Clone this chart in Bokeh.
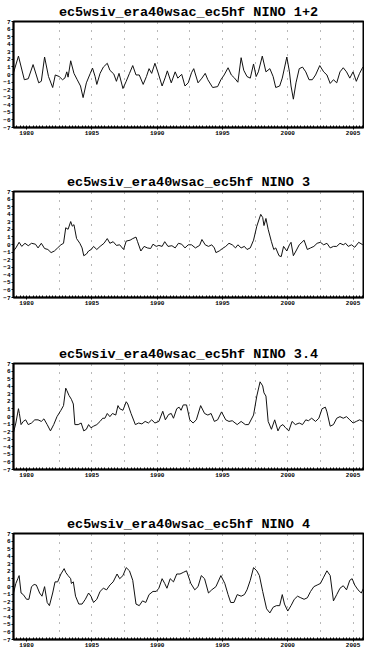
from bokeh.plotting import figure
from bokeh.layouts import column
from bokeh.models import Range1d, FixedTicker
from bokeh.embed import file_html
from bokeh.resources import INLINE

title_prefix = "ec5wsiv_era40wsac_ec5hf"
region_names = ["NINO 1+2", "NINO 3", "NINO 3.4", "NINO 4"]
x_tick_years = [1980, 1985, 1990, 1995, 2000, 2005]
y_tick_values = list(range(-7, 8))

nino12_t = [1979.00, 1979.38, 1979.83, 1980.13, 1980.50, 1980.93, 1981.13, 1981.38, 1981.68, 1982.00,
            1982.20, 1982.50, 1982.75, 1982.93, 1983.08, 1983.18, 1983.38, 1983.63, 1983.88, 1984.13,
            1984.33, 1984.58, 1984.88, 1985.05, 1985.25, 1985.38, 1985.63, 1985.88, 1986.18, 1986.38,
            1986.68, 1986.88, 1987.08, 1987.38, 1987.63, 1987.88, 1988.13, 1988.38, 1988.63, 1988.93,
            1989.18, 1989.38, 1989.58, 1989.83, 1990.05, 1990.38, 1990.63, 1990.78, 1991.08, 1991.38,
            1991.58, 1991.88, 1992.13, 1992.38, 1992.63, 1992.80, 1993.13, 1993.43, 1993.68, 1993.88,
            1994.25, 1994.63, 1994.88, 1995.13, 1995.43, 1995.68, 1995.93, 1996.18, 1996.43, 1996.63,
            1996.88, 1997.13, 1997.38, 1997.58, 1997.75, 1998.05, 1998.33, 1998.63, 1998.88, 1999.08,
            1999.38, 1999.58, 1999.93, 2000.13, 2000.25, 2000.43, 2000.63, 2000.88, 2001.13, 2001.38,
            2001.63, 2001.88, 2002.13, 2002.45, 2002.75, 2003.00, 2003.25, 2003.50, 2003.75, 2004.00,
            2004.25, 2004.50, 2004.75, 2005.00, 2005.25, 2005.50, 2005.75]
nino12_v = [0.23, 2.43, -0.69, -0.56, 1.31, -1.10, -0.89, 2.31, -0.27, -1.72,
            -0.06, -0.27, -0.69, -0.48, 0.35, -0.35, 1.81, 0.15, -0.69, -1.52,
            -3.05, -1.10, 0.15, 0.85, -0.27, -1.31, 0.15, 0.98, 1.48, 0.56,
            0.06, -0.90, 0.15, -1.85, -0.90, 0.15, 1.18, -0.06, -0.06, -1.31,
            -0.27, 0.77, 0.15, 1.48, 0.35, -1.52, -0.35, 0.48, -1.10, 0.35,
            -0.48, 0.02, -1.52, -1.10, 0.23, 0.77, -1.10, -0.48, 0.15, -0.69,
            -1.72, -1.60, -0.69, -0.06, 0.89, -0.06, -0.48, -1.02, 2.22, 0.56,
            -0.27, -0.48, 1.39, -0.27, 0.35, 2.43, 0.35, 0.77, -0.27, -1.72,
            -1.52, -0.48, 2.31, 0.35, -1.52, -3.26, -1.10, 0.77, 0.98, 0.35,
            -0.69, -0.69, -0.06, 1.18, 0.35, -0.06, -1.18, -0.69, -1.10, 0.35,
            0.89, 0.35, -0.48, 0.35, -0.90, 0.15, 0.98]

nino3_t = [1979.00, 1979.18, 1979.43, 1979.63, 1979.88, 1980.13, 1980.38, 1980.68, 1980.88, 1981.13,
           1981.38, 1981.63, 1981.88, 1982.13, 1982.38, 1982.63, 1982.83, 1983.00, 1983.18, 1983.38,
           1983.50, 1983.63, 1983.83, 1984.08, 1984.25, 1984.38, 1984.58, 1984.75, 1984.95, 1985.13,
           1985.38, 1985.63, 1985.93, 1986.18, 1986.38, 1986.63, 1986.88, 1987.13, 1987.43, 1987.63,
           1987.93, 1988.13, 1988.38, 1988.50, 1988.75, 1989.00, 1989.25, 1989.50, 1989.68, 1989.93,
           1990.13, 1990.38, 1990.58, 1990.83, 1991.13, 1991.38, 1991.63, 1991.88, 1992.13, 1992.38,
           1992.63, 1992.93, 1993.25, 1993.43, 1993.68, 1993.93, 1994.18, 1994.38, 1994.50, 1994.75,
           1995.00, 1995.25, 1995.50, 1995.75, 1996.00, 1996.18, 1996.43, 1996.68, 1996.88, 1997.13,
           1997.38, 1997.63, 1997.93, 1998.08, 1998.18, 1998.33, 1998.50, 1998.75, 1998.93, 1999.08,
           1999.33, 1999.50, 1999.68, 1999.93, 2000.13, 2000.25, 2000.43, 2000.63, 2000.88, 2001.25,
           2001.50, 2001.75, 2002.00, 2002.25, 2002.50, 2002.75, 2003.00, 2003.25, 2003.50, 2003.75,
           2004.00, 2004.25, 2004.43, 2004.63, 2004.88, 2005.13, 2005.43, 2005.75]
nino3_v = [-0.86, -0.45, 0.29, -0.25, 0.16, -0.16, 0.16, 0.04, -0.45, 0.16,
           -0.53, -0.66, -1.07, -0.86, -0.45, -0.04, 0.16, 2.21, 2.01, 3.03,
           2.42, 2.62, 0.78, 0.16, -0.45, -1.48, -1.27, -0.86, -0.66, -0.25,
           -0.66, -0.25, 0.16, 0.78, 0.16, 0.37, -0.12, -0.04, -0.66, 0.45,
           0.57, 0.78, 0.98, 0.37, -0.86, -0.25, -0.45, -0.53, 0.04, -0.25,
           -0.12, -0.25, 0.37, -0.25, -0.16, -0.45, 0.16, 0.04, -0.45, -0.04,
           -0.04, -0.45, -0.12, 0.66, -0.04, -0.25, -0.04, -0.45, -1.07, -0.86,
           -0.53, -0.25, 0.16, -0.04, -0.45, -0.04, -0.45, -0.25, -0.66, -0.45,
           0.57, 2.42, 3.98, 3.57, 2.50, 3.44, 2.01, 0.37, -0.66, -0.45,
           -1.48, -1.60, -0.25, -0.86, -0.04, 0.29, -1.48, -0.86, -0.04, 0.57,
           -0.66, -0.45, -0.25, 0.16, 0.29, -0.04, 0.16, -0.45, -0.25, -0.25,
           0.16, -0.04, 0.16, -0.25, -0.04, -0.37, 0.29, -0.04]

nino34_t = [1979.00, 1979.18, 1979.38, 1979.45, 1979.58, 1979.75, 1979.93, 1980.13, 1980.38, 1980.63,
            1980.88, 1981.13, 1981.33, 1981.58, 1981.83, 1982.08, 1982.33, 1982.63, 1982.83, 1983.00,
            1983.08, 1983.25, 1983.43, 1983.58, 1983.70, 1983.95, 1984.18, 1984.38, 1984.58, 1984.75,
            1984.93, 1985.13, 1985.38, 1985.63, 1985.83, 1986.00, 1986.18, 1986.38, 1986.58, 1986.83,
            1987.00, 1987.13, 1987.38, 1987.63, 1987.75, 1988.00, 1988.33, 1988.58, 1988.83, 1989.08,
            1989.33, 1989.58, 1989.83, 1990.13, 1990.43, 1990.63, 1990.88, 1991.08, 1991.25, 1991.50,
            1991.68, 1991.83, 1992.00, 1992.25, 1992.50, 1992.75, 1993.00, 1993.33, 1993.63, 1993.88,
            1994.13, 1994.38, 1994.63, 1994.93, 1995.25, 1995.50, 1995.75, 1996.13, 1996.43, 1996.75,
            1997.00, 1997.38, 1997.63, 1997.88, 1998.08, 1998.18, 1998.33, 1998.50, 1998.75, 1999.00,
            1999.25, 1999.43, 1999.63, 1999.83, 2000.08, 2000.33, 2000.58, 2000.88, 2001.13, 2001.38,
            2001.58, 2001.83, 2002.13, 2002.38, 2002.63, 2002.88, 2003.00, 2003.25, 2003.50, 2003.75,
            2004.00, 2004.25, 2004.50, 2004.75, 2005.00, 2005.25, 2005.50, 2005.75]
nino34_v = [-2.11, -0.86, 1.03, 0.40, -1.07, -0.65, -0.44, -1.07, -0.86, -0.44,
            -0.44, -0.65, -0.31, -1.07, -1.90, -1.07, -0.02, 0.82, 1.44, 3.74,
            3.45, 2.78, 2.28, 1.65, -1.07, -1.07, -0.86, -1.90, -1.69, -1.07,
            -1.49, -1.28, -1.07, -0.65, -0.23, -0.23, 0.40, -0.02, 0.40, 0.19,
            1.44, 1.03, 0.82, 1.95, 1.65, 0.40, -1.07, -0.86, -0.98, -0.65,
            -0.86, -0.44, -0.86, -0.65, 0.69, -0.44, 0.27, 0.40, -0.23, 1.03,
            1.23, 0.82, 1.53, 1.53, -0.44, -0.86, -0.44, 1.44, 0.40, 0.19,
            0.40, -0.65, -0.44, 0.61, -0.44, -0.65, -0.56, -1.07, -0.65, -1.07,
            -1.07, 0.19, 2.70, 4.58, 4.04, 3.12, 2.70, -0.65, -1.69, -0.44,
            -1.90, -1.28, -1.07, -1.49, -1.90, -0.65, -1.07, -0.86, -1.07, -0.44,
            -0.56, -0.23, -0.65, -0.23, 1.03, 1.23, 0.61, -1.28, -1.07, -0.23,
            -0.02, -0.23, -0.02, -0.44, -0.86, -0.65, -0.44, -0.65]

nino4_t = [1979.00, 1979.18, 1979.33, 1979.43, 1979.58, 1979.75, 1980.00, 1980.18, 1980.38, 1980.58,
           1980.75, 1981.00, 1981.18, 1981.38, 1981.58, 1981.75, 1982.00, 1982.18, 1982.38, 1982.63,
           1982.88, 1983.00, 1983.18, 1983.38, 1983.43, 1983.58, 1983.75, 1984.00, 1984.25, 1984.50,
           1984.75, 1984.93, 1985.13, 1985.38, 1985.63, 1985.88, 1986.13, 1986.38, 1986.63, 1986.93,
           1987.13, 1987.38, 1987.63, 1987.88, 1988.13, 1988.38, 1988.63, 1988.88, 1989.13, 1989.38,
           1989.68, 1989.93, 1990.13, 1990.38, 1990.58, 1990.75, 1991.00, 1991.25, 1991.50, 1991.75,
           1992.00, 1992.25, 1992.58, 1992.88, 1993.13, 1993.38, 1993.63, 1993.93, 1994.18, 1994.50,
           1994.88, 1995.18, 1995.43, 1995.63, 1995.88, 1996.13, 1996.43, 1996.68, 1996.88, 1997.13,
           1997.38, 1997.63, 1997.83, 1998.08, 1998.38, 1998.63, 1998.88, 1999.13, 1999.38, 1999.58,
           1999.75, 2000.00, 2000.25, 2000.50, 2000.75, 2001.00, 2001.25, 2001.50, 2001.75, 2002.00,
           2002.25, 2002.50, 2002.75, 2003.00, 2003.25, 2003.50, 2003.75, 2004.00, 2004.25, 2004.50,
           2004.75, 2004.93, 2005.13, 2005.38, 2005.63, 2005.80]
nino4_v = [-0.86, 0.40, 1.03, 1.44, -0.86, -1.07, -1.69, -1.69, -0.02, 0.27,
           0.19, -0.86, -1.28, -0.02, -2.11, -2.53, -0.86, 0.61, 0.61, 1.65,
           2.36, 1.86, 1.44, 1.03, 0.40, 0.61, -1.28, -2.32, -2.32, -1.69,
           -0.86, -1.28, -2.11, -1.69, -0.65, -0.23, -0.44, 0.19, 0.61, 1.65,
           1.03, 1.44, 2.49, 2.07, 0.82, -2.32, -2.53, -1.90, -2.11, -1.07,
           -0.65, -0.65, -0.23, 1.03, 0.40, -0.23, 1.03, 0.61, 1.65, 1.65,
           1.86, 2.07, 0.40, -0.44, -0.02, 1.44, 1.03, -0.86, -0.44, -0.02,
           1.44, 0.40, -1.07, -2.11, -2.11, -1.07, -1.28, -1.07, -0.44, 0.82,
           2.49, 2.07, 1.44, -0.65, -2.95, -3.49, -2.74, -2.53, -2.53, -1.07,
           -2.32, -3.24, -2.53, -1.69, -1.28, -1.49, -1.69, -1.49, -0.65, -0.02,
           0.19, 0.40, 1.23, 2.07, 1.44, -1.90, -1.07, -0.23, 0.10, -0.44,
           0.82, 1.03, 0.19, -0.44, -0.86, -0.23]

series = [(nino12_t, nino12_v), (nino3_t, nino3_v), (nino34_t, nino34_v), (nino4_t, nino4_v)]

# layout per panel: (min_border_top, min_border_bottom)
borders = [(17, 39), (25, 41), (25, 39), (25, 17)]
FRAME_H = 106
FRAME_W = 350

figs = []
for i, ((t, v), name) in enumerate(zip(series, region_names)):
    bt, bb = borders[i]
    p = figure(frame_width=FRAME_W, frame_height=FRAME_H,
               output_backend="svg", toolbar_location=None,
               x_range=Range1d(1979.0, 2005.8), y_range=Range1d(-7, 7),
               min_border_left=10, min_border_right=1,
               min_border_top=bt, min_border_bottom=bb)
    p.title.text = f"{title_prefix} {name}"
    p.title.align = "center"
    p.title.text_font = "Liberation Mono"
    p.title.text_font_style = "bold"
    p.title.text_font_size = "13.5px"
    p.title.text_color = "black"
    p.title.standoff = 4

    p.line(t, v, line_color="#111111", line_width=1.0)

    p.outline_line_color = "black"
    p.outline_line_width = 2
    p.outline_line_alpha = 1

    p.xaxis.ticker = FixedTicker(ticks=x_tick_years, minor_ticks=[y + m / 4 for y in range(1979, 2006) for m in range(4)])
    p.yaxis.ticker = FixedTicker(ticks=y_tick_values)
    for ax in (p.xaxis, p.yaxis):
        ax.major_label_text_font = "Liberation Mono"
        ax.major_label_text_font_style = "bold"
        ax.major_label_text_font_size = "6px"
        ax.major_label_text_color = "black"
        ax.axis_line_color = "black"
        ax.axis_line_width = 1.5
        ax.major_tick_out = 2
        ax.major_tick_in = 0
        ax.major_label_standoff = 1
    p.xaxis.minor_tick_in = 2
    p.xaxis.minor_tick_out = 0
    p.yaxis.minor_tick_line_color = None

    p.xgrid.ticker = FixedTicker(ticks=[1982.5, 1985, 1987.5, 1990, 1992.5, 1995, 1997.5, 2000, 2002.5, 2005])
    p.xgrid.grid_line_color = "#333333"
    p.xgrid.grid_line_dash = "1 7"
    p.xgrid.grid_line_alpha = 0.7
    p.ygrid.grid_line_color = None
    figs.append(p)

layout = column(*figs, spacing=0)
open("out.html", "w").write(file_html(layout, INLINE))
